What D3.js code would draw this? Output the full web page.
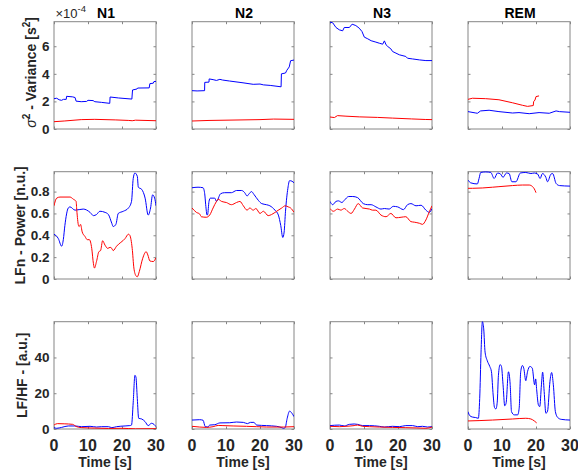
<!DOCTYPE html>
<html>
<head>
<meta charset="utf-8">
<script src="https://cdn.jsdelivr.net/npm/d3@7"></script>
<style>
  html, body { margin: 0; padding: 0; background: #fff; }
  svg { display: block; }
  text { font-family: "Liberation Sans", Arial, Helvetica, sans-serif; }
</style>
</head>
<body>
<svg id="chart" width="578" height="471"></svg>
<script>
// ---------------- DATA ----------------
const stages = ["N1", "N2", "N3", "REM"];
const xTicks = [0, 10, 20, 30];
const varTicks = [0, 2, 4, 6];          // x 10^-4 s^2
const lfnTicks = [0, 0.2, 0.4, 0.6, 0.8];
const ratioTicks = [0, 20, 40];
const rowLabels = ["Variance", "LFn - Power [n.u.]", "LF/HF - [a.u.]"];
const xLabel = "Time [s]";

// Row 1 : variance (units of 1e-4 s^2), [time, value]
const varN1Blue = [[0,2.2],[0.8,2.23],[1.5,2.12],[2.2,2.08],[2.8,2.15],[3.6,2.15],[3.7,2.37],[5.5,2.33],[6.2,2.28],[6.5,2.02],[8,1.98],[9.6,2.0],[10,2.08],[11.5,2.06],[12,1.98],[14,1.93],[16.4,1.86],[16.5,2.32],[19,2.25],[22.9,2.17],[23.1,2.83],[24.4,2.9],[24.6,2.97],[28,2.98],[28.2,3.29],[29.2,3.32],[29.4,3.44],[30,3.45]];
const varN1Red = [[0,0.53],[3,0.58],[8,0.68],[12,0.7],[18,0.66],[22,0.62],[23,0.6],[24,0.64],[30,0.6]];
const varN2Blue = [[0,2.78],[1.5,2.76],[3.7,2.78],[3.75,3.38],[5.0,3.4],[5.05,3.63],[6.2,3.58],[7.2,3.52],[8.2,3.6],[9,3.55],[11,3.48],[15,3.35],[18,3.24],[20,3.26],[21,3.2],[23,3.16],[26.2,3.06],[26.3,4.0],[27.5,4.06],[27.9,4.26],[28.6,4.5],[29.0,4.95],[30,5.0]];
const varN2Red = [[0,0.58],[5,0.62],[10,0.64],[15,0.66],[20,0.68],[24,0.72],[30,0.7]];
const varN3Blue = [[0,7.75],[0.8,7.7],[1.76,7.36],[2.74,7.19],[3.72,7.12],[4.2,7.36],[5.7,7.36],[6.5,7.6],[7.6,7.5],[8.6,7.31],[9.4,7.07],[10.1,6.66],[11.1,6.54],[12.1,6.4],[13.5,6.3],[14.5,6.22],[15.5,6.15],[16.0,6.39],[16.5,6.1],[17,5.98],[17.9,5.81],[18.4,5.62],[19.4,5.5],[20.4,5.38],[22.3,5.26],[22.8,5.13],[24.3,5.08],[26.3,5.01],[28.2,4.96],[30,4.96]];
const varN3Red = [[0,0.87],[1.3,0.83],[2.2,0.97],[4.7,0.93],[8.6,0.88],[14,0.84],[18.4,0.79],[24,0.73],[28,0.69],[30,0.68]];
const varREMBlue = [[0,1.26],[2.3,1.16],[2.75,1.14],[3.7,1.31],[6.2,1.36],[9.1,1.26],[13.1,1.16],[15,1.19],[18,1.11],[20.9,1.19],[23.9,1.14],[25.9,1.31],[26.9,1.26],[30,1.21]];
const varREMRed = [[0,2.15],[1.3,2.23],[5.2,2.2],[9.1,2.12],[13.1,1.9],[16,1.72],[17.5,1.64],[19.2,1.7],[19.3,1.98],[19.7,2.1],[20,2.35],[20.9,2.4]];

// Row 2 : LFn power [n.u.]
const lfnN1Blue = [[0,0.41],[1.27,0.37],[2.25,0.30],[2.74,0.36],[3.2,0.49],[4.2,0.65],[4.7,0.66],[6.2,0.63],[8.6,0.64],[10.6,0.61],[11.6,0.58],[12.5,0.59],[13.5,0.62],[15,0.61],[16,0.59],[17,0.51],[17.4,0.48],[18.2,0.50],[18.9,0.60],[20.4,0.62],[21.9,0.65],[22.8,0.71],[23.3,0.92],[23.8,0.97],[24.5,0.94],[24.8,0.84],[25.8,0.82],[26.8,0.74],[27.7,0.585],[28.4,0.65],[29,0.77],[29.6,0.74],[30,0.67]];
const lfnN1Red = [[0,0.67],[0.78,0.74],[1.76,0.75],[4.7,0.75],[5.7,0.73],[6.5,0.71],[6.7,0.63],[7.2,0.49],[7.4,0.48],[7.8,0.50],[8.3,0.43],[9.1,0.39],[9.8,0.36],[10.4,0.36],[11.1,0.28],[11.6,0.14],[11.9,0.10],[12.5,0.16],[13.2,0.25],[13.7,0.26],[14.3,0.35],[15,0.31],[15.8,0.28],[16.5,0.29],[17,0.28],[17.4,0.26],[18.4,0.30],[20.9,0.37],[21.9,0.41],[22.3,0.40],[23,0.28],[23.5,0.10],[24.1,0.03],[24.5,0.02],[25.1,0.07],[26.1,0.19],[27.1,0.25],[27.6,0.22],[28.2,0.165],[29.2,0.16],[30,0.195]];
const lfnN2Blue = [[0,0.835],[1.77,0.84],[3.25,0.835],[3.74,0.78],[4.03,0.68],[4.43,0.585],[4.6,0.59],[5.0,0.71],[5.4,0.74],[6.7,0.74],[7.2,0.71],[8.4,0.78],[9.6,0.79],[11.6,0.79],[13.1,0.81],[14.6,0.81],[15.5,0.79],[16.2,0.76],[16.8,0.78],[17.5,0.80],[18.2,0.775],[19.5,0.72],[20.5,0.69],[21.9,0.68],[22.9,0.67],[24.4,0.63],[25.4,0.585],[26.1,0.49],[26.7,0.38],[27.1,0.43],[27.5,0.62],[28.2,0.83],[28.7,0.90],[29.4,0.895],[30,0.88]];
const lfnN2Red = [[0,0.65],[1.28,0.61],[2.26,0.595],[2.75,0.57],[4.2,0.565],[5.2,0.585],[6.2,0.65],[7.2,0.71],[7.7,0.73],[8.7,0.71],[10.1,0.70],[11.6,0.68],[13.1,0.70],[14.1,0.71],[15.1,0.67],[16.2,0.63],[17,0.65],[18,0.63],[18.8,0.645],[20,0.60],[21,0.62],[22.4,0.58],[23.4,0.59],[24.9,0.62],[26.4,0.65],[27.4,0.67],[28.3,0.66],[29,0.65],[30,0.61]];
const lfnN3Blue = [[0,0.71],[0.78,0.68],[1.76,0.71],[2.5,0.715],[3.5,0.70],[4.2,0.72],[5.5,0.755],[6.7,0.755],[8.1,0.745],[9.8,0.69],[11.1,0.68],[12.1,0.68],[13.5,0.66],[15,0.64],[16,0.645],[17.4,0.64],[18.6,0.665],[19.9,0.66],[21.6,0.635],[22.8,0.68],[23.8,0.69],[25.3,0.67],[26.8,0.675],[28.2,0.63],[29.2,0.61],[30,0.645]];
const lfnN3Red = [[0,0.645],[1,0.62],[2.25,0.64],[3.2,0.63],[4.2,0.645],[5.2,0.62],[6.2,0.60],[7.2,0.64],[8.3,0.69],[9.6,0.65],[11.6,0.64],[12.5,0.63],[13.5,0.63],[15,0.585],[16.5,0.57],[17.9,0.60],[19.4,0.56],[20.9,0.565],[22.3,0.57],[23.8,0.525],[24.8,0.52],[26.3,0.51],[27.2,0.50],[28.2,0.54],[29.2,0.615],[30,0.67]];
const lfnREMBlue = [[0,0.905],[0.8,0.88],[2.75,0.87],[3.25,0.92],[3.74,0.975],[5.2,0.98],[6.7,0.975],[7.7,0.92],[8.7,0.97],[9.6,0.96],[10.3,0.93],[11.3,0.97],[12.1,0.965],[12.9,0.89],[14.1,0.89],[15.4,0.97],[17,0.975],[18.5,0.965],[19.5,0.97],[20.5,0.96],[21.2,0.92],[21.9,0.965],[22.9,0.93],[23.4,0.89],[24.4,0.96],[24.9,0.965],[25.9,0.875],[26.9,0.855],[30,0.85]];
const lfnREMRed = [[0,0.83],[1.28,0.83],[4.2,0.833],[7.2,0.84],[9.1,0.845],[13.1,0.855],[16,0.86],[18,0.86],[19,0.845],[19.5,0.825],[20,0.79]];

// Row 3 : LF/HF ratio [a.u.]
const ratioN1Blue = [[0,0.75],[0.78,0.4],[2.25,0.9],[4.2,1.7],[6.2,1.7],[8.1,1.3],[10.6,1.5],[12.5,1.1],[14,1.3],[16,1.3],[17,0.75],[18.4,1.3],[20.9,1.7],[22.3,1.9],[22.8,2.2],[23.3,15],[23.8,30],[24.1,29],[24.5,17],[24.9,6],[25.8,5.6],[26.8,4.1],[27.7,1.9],[28.7,3.2],[29.4,2.6],[30,1.3]];
const ratioN1Red = [[0,2.2],[1,3.0],[3,2.9],[5.5,2.6],[6.5,1.4],[8,0.8],[12,0.5],[16,0.3],[20,0.4],[24,0.1],[30,0.2]];
const ratioN2Blue = [[0,5.0],[2.26,5.2],[3.25,4.9],[3.9,1.3],[4.7,1.1],[5.2,2.2],[6.7,2.4],[8.2,3.4],[11.1,3.5],[13.1,3.9],[15.1,3.7],[16.3,3.0],[17.2,3.7],[18.2,3.7],[19,2.2],[21.9,1.9],[24.9,1.5],[26.4,0.75],[26.9,0.4],[27.4,0.75],[28,6],[28.7,10],[29.4,8.8],[30,6.9]];
const ratioN2Red = [[0,1.5],[2.26,1.1],[4.2,0.9],[6.2,1.3],[7.7,2.0],[9.1,1.9],[12.1,1.7],[16,1.5],[19,1.3],[21.9,1.1],[26.9,1.1],[30,1.3]];
const ratioN3Blue = [[0,1.9],[2.74,2.2],[4.2,1.7],[5.7,2.6],[7.1,2.8],[8.1,2.6],[9.6,1.9],[11.6,1.9],[14.5,1.5],[16,1.1],[18.4,1.5],[20.4,1.3],[22.3,1.9],[24.3,1.9],[25.8,1.3],[27.2,1.5],[28.7,1.1],[30,1.3]];
const ratioN3Red = [[0,1.5],[2.74,1.3],[4.7,1.5],[7.1,1.9],[8.1,2.2],[9.6,1.5],[11.6,1.3],[14.5,1.1],[18.4,0.9],[22.3,0.75],[25.3,0.6],[28.2,0.4],[30,1.1]];
const ratioREMBlue = [[0,9.7],[0.5,7.5],[1.28,6.7],[2.26,6.4],[3.05,6.0],[3.44,17],[3.84,43],[4.23,60],[4.62,56],[5.02,43],[5.7,38],[6.4,35],[6.9,32],[7.4,19],[7.8,12],[8.2,11.2],[8.6,15],[8.95,30],[9.45,36],[9.84,35],[10.3,25],[10.8,13],[11.2,14.4],[11.9,32],[12.4,25],[12.8,9.7],[13.6,7.9],[14.6,7.9],[15.05,11.6],[15.5,32],[16.0,35.5],[16.4,34],[17.0,27],[17.5,32],[18.2,35],[18.9,34],[19.6,24.7],[19.9,28],[20.2,21.9],[20.7,13.5],[21.1,12.5],[21.6,24.7],[21.95,31.8],[22.4,21],[22.9,8.8],[23.4,10],[24.1,26.5],[24.6,31.6],[25.1,24.7],[25.7,9.7],[26.4,6.4],[27.4,5.4],[30,5.0]];
const ratioREMRed = [[0,4.5],[3.25,4.7],[7.2,5.0],[13.1,5.6],[17,6.0],[18.5,5.6],[19.5,4.5],[20.2,3.4]];

// --------------- LAYOUT ---------------
const colX = [54, 192, 330, 468];
const rowY = [21.7, 171.7, 321.7];
const W = 102, H = 107.3;
const BLUE = "#0000ff", RED = "#ff0000", FRAME = "#868686", TXT = "#262626";

const rows = [
  { domain: [0, 7.78], ticks: varTicks, fmt: d3.format("d"),
    series: [[varN1Blue, varN1Red], [varN2Blue, varN2Red], [varN3Blue, varN3Red], [varREMBlue, varREMRed]], curve: d3.curveLinear },
  { domain: [0, 0.982], ticks: lfnTicks, fmt: d => d === 0 ? "0" : d3.format(".1f")(d),
    series: [[lfnN1Blue, lfnN1Red], [lfnN2Blue, lfnN2Red], [lfnN3Blue, lfnN3Red], [lfnREMBlue, lfnREMRed]], curve: d3.curveMonotoneX },
  { domain: [0, 60], ticks: ratioTicks, fmt: d3.format("d"),
    series: [[ratioN1Blue, ratioN1Red], [ratioN2Blue, ratioN2Red], [ratioN3Blue, ratioN3Red], [ratioREMBlue, ratioREMRed]], curve: d3.curveMonotoneX }
];

const svg = d3.select("#chart");
const defs = svg.append("defs");

rows.forEach((row, ri) => {
  stages.forEach((st, ci) => {
    const x = d3.scaleLinear().domain([0, 30]).range([colX[ci], colX[ci] + W]);
    const y = d3.scaleLinear().domain(row.domain).range([rowY[ri] + H, rowY[ri]]);
    const g = svg.append("g");
    const cid = `clip-${ri}-${ci}`;
    defs.append("clipPath").attr("id", cid).append("rect")
      .attr("x", colX[ci]).attr("y", rowY[ri] - 1).attr("width", W).attr("height", H + 1);

    // axes with inward ticks, all four sides
    const tl = 2.5;
    g.append("g").attr("transform", `translate(0,${rowY[ri] + H})`)
      .call(d3.axisBottom(x).tickValues(xTicks).tickSizeInner(-tl).tickSizeOuter(0).tickFormat(""));
    g.append("g").attr("transform", `translate(0,${rowY[ri]})`)
      .call(d3.axisTop(x).tickValues(xTicks).tickSizeInner(-tl).tickSizeOuter(0).tickFormat(""));
    g.append("g").attr("transform", `translate(${colX[ci]},0)`)
      .call(d3.axisLeft(y).tickValues(row.ticks).tickSizeInner(-tl).tickSizeOuter(0).tickFormat(""));
    g.append("g").attr("transform", `translate(${colX[ci] + W},0)`)
      .call(d3.axisRight(y).tickValues(row.ticks).tickSizeInner(-tl).tickSizeOuter(0).tickFormat(""));
    g.selectAll(".domain").remove();
    g.selectAll(".tick line").attr("stroke", FRAME).attr("stroke-width", 1);

    g.append("rect").attr("x", colX[ci]).attr("y", rowY[ri]).attr("width", W).attr("height", H)
      .attr("fill", "none").attr("stroke", FRAME).attr("stroke-width", 1);

    const line = d3.line().x(d => x(d[0])).y(d => y(d[1])).curve(row.curve);
    const [bl, rd] = row.series[ci];
    const lg = g.append("g").attr("clip-path", `url(#${cid})`);
    lg.append("path").datum(bl).attr("d", line).attr("fill", "none").attr("stroke", BLUE).attr("stroke-width", 1);
    lg.append("path").datum(rd).attr("d", line).attr("fill", "none").attr("stroke", RED).attr("stroke-width", 1);

    // y tick labels (first column)
    if (ci === 0) {
      g.selectAll(".ylab").data(row.ticks).join("text")
        .attr("x", colX[ci] - 4.5).attr("y", d => y(d)).attr("dy", "0.36em")
        .attr("text-anchor", "end").attr("font-size", 13.5).attr("font-weight", "bold").attr("fill", TXT)
        .text(row.fmt);
    }
    // x tick labels (bottom row)
    if (ri === 2) {
      g.selectAll(".xlab").data(xTicks).join("text")
        .attr("x", d => x(d)).attr("y", 450.8)
        .attr("text-anchor", "middle").attr("font-size", 16).attr("font-weight", "bold").attr("fill", TXT)
        .text(d => d);
      g.append("text").attr("x", colX[ci] + W / 2).attr("y", 466.7)
        .attr("text-anchor", "middle").attr("font-size", 14).attr("font-weight", "bold").attr("fill", TXT)
        .text(xLabel);
    }
    // titles (top row)
    if (ri === 0) {
      g.append("text").attr("x", colX[ci] + W / 2 + 1).attr("y", 18.3)
        .attr("text-anchor", "middle").attr("font-size", 14).attr("font-weight", "bold").attr("fill", "#000")
        .text(st);
    }
  });
});

// exponent label
const ex = svg.append("text").attr("x", 55.5).attr("y", 18.3).attr("font-size", 13).attr("fill", TXT);
ex.append("tspan").text("\u00d710");
ex.append("tspan").attr("font-size", 9.5).attr("dy", -6.5).text("-4");

// y-axis labels
const yl1 = svg.append("text").attr("transform", `translate(36,${rowY[0] + H / 2 - 3}) rotate(-90)`)
  .attr("text-anchor", "middle").attr("font-size", 14).attr("font-weight", "bold").attr("fill", TXT);
yl1.append("tspan").attr("font-style", "italic").attr("font-weight", "normal").text("\u03c3");
yl1.append("tspan").attr("font-size", 10).attr("dy", -6).text("2");
yl1.append("tspan").attr("dy", 6).text(" - " + rowLabels[0] + " [s");
yl1.append("tspan").attr("font-size", 10).attr("dy", -6).text("2");
yl1.append("tspan").attr("dy", 6).text("]");

svg.append("text").attr("transform", `translate(24.5,${rowY[1] + H / 2}) rotate(-90)`)
  .attr("text-anchor", "middle").attr("font-size", 14).attr("font-weight", "bold").attr("fill", TXT)
  .text(rowLabels[1]);
svg.append("text").attr("transform", `translate(26.5,${rowY[2] + H / 2}) rotate(-90)`)
  .attr("text-anchor", "middle").attr("font-size", 14).attr("font-weight", "bold").attr("fill", TXT)
  .text(rowLabels[2]);
</script>
</body>
</html>
